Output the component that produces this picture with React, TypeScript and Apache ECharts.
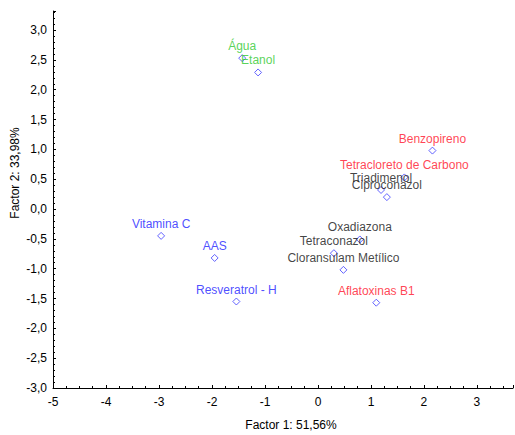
import React, { useEffect, useRef } from "react";
import * as echarts from "echarts";

const names = [
  "Água", "Etanol", "Benzopireno", "Tetracloreto de Carbono", "Triadimenol", "Ciproconazol",
  "Oxadiazona", "Tetraconazol", "Cloransulam Metílico", "Aflatoxinas B1",
  "Vitamina C", "AAS", "Resveratrol - H",
];
const factor1 = [-1.43, -1.13, 2.16, 1.63, 1.19, 1.30, 0.79, 0.30, 0.48, 1.10, -2.96, -1.95, -1.54];
const factor2 = [2.53, 2.29, 0.98, 0.53, 0.32, 0.20, -0.51, -0.74, -1.02, -1.57, -0.45, -0.82, -1.55];
const groups = ["green", "green", "red", "red", "black", "black", "black", "black", "black", "red", "blue", "blue", "blue"];
const groupColors: Record<string, string> = {
  green: "#2ec82e",
  red: "#ff1028",
  black: "#111111",
  blue: "#2020ff",
};
const xTitle = "Factor 1: 51,56%";
const yTitle = "Factor 2: 33,98%";

export default function App() {
  const ref = useRef<HTMLDivElement>(null);
  useEffect(() => {
    if (!ref.current) return;
    const chart = echarts.init(ref.current, null, { renderer: "svg" });
    const font = "Liberation Sans, Arial, sans-serif";
    const data = names.map((n, i) => ({
      name: n,
      value: [factor1[i], factor2[i]],
      label: { color: groupColors[groups[i]] },
    }));
    chart.setOption({
      animation: false,
      grid: { left: 53, right: 2, top: 11, bottom: 47 },
      xAxis: {
        type: "value",
        min: -5,
        max: 3.68,
        interval: 1,
        axisLine: { show: true, onZero: false, lineStyle: { color: "#000", width: 1 } },
        axisTick: { show: true, inside: true, length: 3, lineStyle: { color: "#000" } },
        minorTick: { show: true, splitNumber: 4, length: 2, lineStyle: { color: "#000" } },
        splitLine: { show: false },
        axisLabel: {
          color: "#000",
          fontFamily: font,
          fontSize: 12,
          margin: 8,
          showMaxLabel: false,
          formatter: (v: number) => (v > 3.5 ? "" : String(v)),
        },
      },
      yAxis: {
        type: "value",
        min: -3,
        max: 3.32,
        interval: 0.5,
        axisLine: { show: true, onZero: false, lineStyle: { color: "#000", width: 1 } },
        axisTick: { show: true, inside: true, length: 3, lineStyle: { color: "#000" } },
        minorTick: { show: true, splitNumber: 5, length: 2, lineStyle: { color: "#000" } },
        splitLine: { show: false },
        axisLabel: {
          color: "#000",
          fontFamily: font,
          fontSize: 12,
          margin: 6,
          formatter: (v: number) => (v > 3.1 ? "" : v.toFixed(1).replace(".", ",")),
        },
      },
      graphic: [
        {
          type: "text",
          x: 291,
          y: 425,
          style: {
            text: xTitle,
            fill: "#000",
            font: "12px Liberation Sans, Arial, sans-serif",
            textAlign: "center",
            textVerticalAlign: "middle",
          },
        },
        {
          type: "text",
          x: 15,
          y: 173,
          rotation: Math.PI / 2,
          style: {
            text: yTitle,
            fill: "#000",
            font: "12px Liberation Sans, Arial, sans-serif",
            textAlign: "center",
            textVerticalAlign: "middle",
          },
        },
      ],
      series: [
        {
          type: "scatter",
          symbol: "diamond",
          symbolSize: 7,
          itemStyle: { color: "#ffffff", borderColor: "#3c3cff", borderWidth: 1 },
          label: {
            show: true,
            position: "top",
            distance: 2,
            formatter: "{b}",
            fontFamily: font,
            fontSize: 12,
          },
          data,
        },
      ],
    });
    return () => chart.dispose();
  }, []);
  return (
    <div
      ref={ref}
      style={{ position: "absolute", left: 0, top: 0, width: 515, height: 435 }}
    />
  );
}
